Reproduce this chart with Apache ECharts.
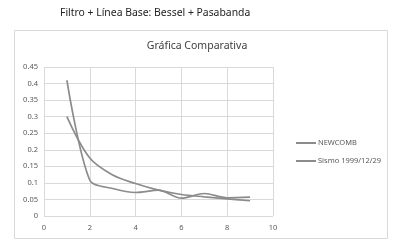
<!DOCTYPE html>
<html><head><meta charset="utf-8">
<script src="https://cdn.jsdelivr.net/npm/echarts@6/dist/echarts.min.js"></script>
<style>html,body{margin:0;padding:0;background:#fff}#c{width:394px;height:246px}</style>
</head><body><div id="c"></div>
<script>
var xValues = [1, 2, 3, 4, 5, 6, 7, 8, 9];
var newcomb = [0.300, 0.175, 0.124, 0.098, 0.078, 0.065, 0.058, 0.052, 0.046];
var sismo = [0.410, 0.108, 0.083, 0.071, 0.078, 0.054, 0.068, 0.055, 0.057];
var seriesNames = ['NEWCOMB', 'Sismo 1999/12/29'];
var pageTitle = 'Filtro + Línea Base: Bessel + Pasabanda';
var chartTitle = 'Gráfica Comparativa';

function pairs(ys){ return xValues.map(function(x,i){ return [x, ys[i]]; }); }
var font = 'Noto Sans, sans-serif';
var chart = echarts.init(document.getElementById('c'));
chart.setOption({
  animation: false,
  graphic: [
    {type:'rect', shape:{x:14.5, y:30.5, width:373, height:208}, style:{fill:'none', stroke:'#d9d9d9', lineWidth:1}},
    {type:'text', left:60, top:8, style:{text:pageTitle, font:'10.4px ' + font, fill:'#222'}},
    {type:'text', left:'center', top:41, style:{text:chartTitle, font:'10.5px ' + font, fill:'#404040'}}
  ],
  grid: {left:44, right:121, top:67, bottom:30},
  legend: {
    orient:'vertical', left:291, top:134, itemWidth:20, itemHeight:2, itemGap:10, icon:'rect',
    textStyle:{fontFamily:font, fontSize:7.5, color:'#595959', padding:[0,0,0,-3]},
    data: seriesNames
  },
  xAxis: {
    type:'value', min:0, max:10, interval:2,
    axisLine:{show:false}, axisTick:{show:false},
    splitLine:{lineStyle:{color:'#d9d9d9'}},
    axisLabel:{fontFamily:font, fontSize:7.5, color:'#595959', margin:8}
  },
  yAxis: {
    type:'value', min:0, max:0.45, interval:0.05,
    axisLine:{show:false}, axisTick:{show:false},
    splitLine:{lineStyle:{color:'#d9d9d9'}},
    axisLabel:{fontFamily:font, fontSize:7.5, color:'#595959', margin:6,
      formatter:function(v){ return String(Math.round(v*100)/100); }}
  },
  series: [
    {name:seriesNames[0], type:'line', data:pairs(newcomb), smooth:0.35, symbol:'none',
     lineStyle:{color:'#8c8c8c', width:1.7}, itemStyle:{color:'#8c8c8c'}},
    {name:seriesNames[1], type:'line', data:pairs(sismo), smooth:0.3, symbol:'none',
     lineStyle:{color:'#8c8c8c', width:1.7}, itemStyle:{color:'#8c8c8c'}}
  ]
});
</script></body></html>
